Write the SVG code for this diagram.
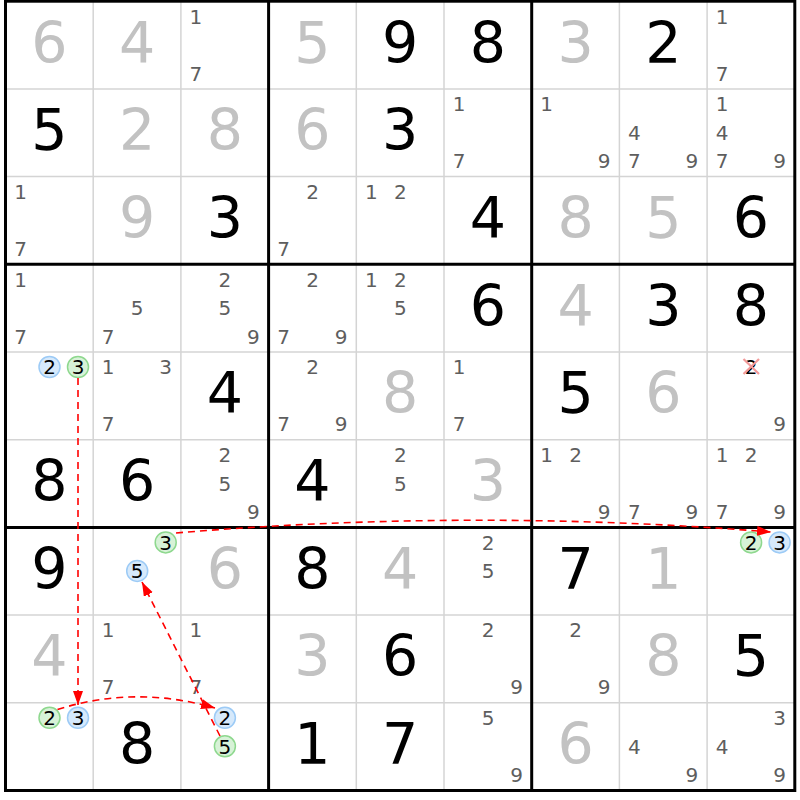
<svg xmlns="http://www.w3.org/2000/svg" width="800" height="800" viewBox="0 0 800 800">
<style>
text{font-family:"DejaVu Sans","Liberation Sans",sans-serif;text-anchor:middle}
.g{font-size:57px;fill:#000}
.s{font-size:57px;fill:#c2c2c2}
.c{font-size:20px;fill:#5e5e5e}
.k{font-size:20px;fill:#000}
.thin{stroke:#d4d4d4;stroke-width:1.5}
.thick{stroke:#000;stroke-width:3;fill:none}
.bl{fill:#d6e9fb;stroke:#9dcbf6;stroke-width:1.5}
.gr{fill:#d7f2d7;stroke:#8ed88e;stroke-width:1.5}
.ln{fill:none;stroke:#f00;stroke-width:1.6;stroke-dasharray:7,5}
.x{stroke:#f39a9a;stroke-width:2.2}
</style>
<defs>
<marker id="ah" markerUnits="userSpaceOnUse" markerWidth="15" markerHeight="11" refX="14" refY="5" orient="auto">
<path d="M0,0 L14,5 L0,10 z" fill="#f00"/>
</marker>
</defs>
<rect width="800" height="800" fill="#fff"/>
<g id="grid-thin" class="thin">
<line x1="93.2" y1="1" x2="93.2" y2="790"/><line x1="180.9" y1="1" x2="180.9" y2="790"/>
<line x1="356.3" y1="1" x2="356.3" y2="790"/><line x1="444" y1="1" x2="444" y2="790"/>
<line x1="619.4" y1="1" x2="619.4" y2="790"/><line x1="707.1" y1="1" x2="707.1" y2="790"/>
<line x1="5" y1="88.9" x2="795" y2="88.9"/><line x1="5" y1="176.6" x2="795" y2="176.6"/>
<line x1="5" y1="352" x2="795" y2="352"/><line x1="5" y1="439.7" x2="795" y2="439.7"/>
<line x1="5" y1="615.1" x2="795" y2="615.1"/><line x1="5" y1="702.8" x2="795" y2="702.8"/>
</g>
<!-- Row 1 -->
<g id="r1c1"><text class="s" x="49.4" y="62.5">6</text></g>
<g id="r1c2"><text class="s" x="137.1" y="62.5">4</text></g>
<g id="r1c3"><text class="c" x="195.9" y="23.5">1</text><text class="c" x="195.9" y="80.5">7</text></g>
<g id="r1c4"><text class="s" x="312.5" y="62.5">5</text></g>
<g id="r1c5"><text class="g" x="400.2" y="62.5">9</text></g>
<g id="r1c6"><text class="g" x="487.9" y="62.5">8</text></g>
<g id="r1c7"><text class="s" x="575.6" y="62.5">3</text></g>
<g id="r1c8"><text class="g" x="663.3" y="62.5">2</text></g>
<g id="r1c9"><text class="c" x="722.1" y="23.5">1</text><text class="c" x="722.1" y="80.5">7</text></g>
<!-- Row 2 -->
<g id="r2c1"><text class="g" x="49.4" y="150.2">5</text></g>
<g id="r2c2"><text class="s" x="137.1" y="150.2">2</text></g>
<g id="r2c3"><text class="s" x="224.8" y="150.2">8</text></g>
<g id="r2c4"><text class="s" x="312.5" y="150.2">6</text></g>
<g id="r2c5"><text class="g" x="400.2" y="150.2">3</text></g>
<g id="r2c6"><text class="c" x="459" y="111.2">1</text><text class="c" x="459" y="168.2">7</text></g>
<g id="r2c7"><text class="c" x="546.7" y="111.2">1</text><text class="c" x="604.2" y="168.2">9</text></g>
<g id="r2c8"><text class="c" x="634.4" y="139.7">4</text><text class="c" x="634.4" y="168.2">7</text><text class="c" x="691.9" y="168.2">9</text></g>
<g id="r2c9"><text class="c" x="722.1" y="111.2">1</text><text class="c" x="722.1" y="139.7">4</text><text class="c" x="722.1" y="168.2">7</text><text class="c" x="779.6" y="168.2">9</text></g>
<!-- Row 3 -->
<g id="r3c1"><text class="c" x="20.5" y="198.9">1</text><text class="c" x="20.5" y="255.9">7</text></g>
<g id="r3c2"><text class="s" x="137.1" y="237.9">9</text></g>
<g id="r3c3"><text class="g" x="224.8" y="237.9">3</text></g>
<g id="r3c4"><text class="c" x="312.6" y="198.9">2</text><text class="c" x="283.6" y="255.9">7</text></g>
<g id="r3c5"><text class="c" x="371.3" y="198.9">1</text><text class="c" x="400.3" y="198.9">2</text></g>
<g id="r3c6"><text class="g" x="487.9" y="237.9">4</text></g>
<g id="r3c7"><text class="s" x="575.6" y="237.9">8</text></g>
<g id="r3c8"><text class="s" x="663.3" y="237.9">5</text></g>
<g id="r3c9"><text class="g" x="751" y="237.9">6</text></g>
<!-- Row 4 -->
<g id="r4c1"><text class="c" x="20.5" y="286.6">1</text><text class="c" x="20.5" y="343.6">7</text></g>
<g id="r4c2"><text class="c" x="137.2" y="315.1">5</text><text class="c" x="108.2" y="343.6">7</text></g>
<g id="r4c3"><text class="c" x="224.9" y="286.6">2</text><text class="c" x="224.9" y="315.1">5</text><text class="c" x="253.4" y="343.6">9</text></g>
<g id="r4c4"><text class="c" x="312.6" y="286.6">2</text><text class="c" x="283.6" y="343.6">7</text><text class="c" x="341.1" y="343.6">9</text></g>
<g id="r4c5"><text class="c" x="371.3" y="286.6">1</text><text class="c" x="400.3" y="286.6">2</text><text class="c" x="400.3" y="315.1">5</text></g>
<g id="r4c6"><text class="g" x="487.9" y="325.6">6</text></g>
<g id="r4c7"><text class="s" x="575.6" y="325.6">4</text></g>
<g id="r4c8"><text class="g" x="663.3" y="325.6">3</text></g>
<g id="r4c9"><text class="g" x="751" y="325.6">8</text></g>
<!-- Row 5 -->
<g id="r5c1"><circle class="bl" cx="49.5" cy="367" r="10.5"/><text class="k" x="49.5" y="374.3">2</text><circle class="gr" cx="78" cy="367" r="10.5"/><text class="k" x="78" y="374.3">3</text></g>
<g id="r5c2"><text class="c" x="108.2" y="374.3">1</text><text class="c" x="165.7" y="374.3">3</text><text class="c" x="108.2" y="431.3">7</text></g>
<g id="r5c3"><text class="g" x="224.8" y="413.3">4</text></g>
<g id="r5c4"><text class="c" x="312.6" y="374.3">2</text><text class="c" x="283.6" y="431.3">7</text><text class="c" x="341.1" y="431.3">9</text></g>
<g id="r5c5"><text class="s" x="400.2" y="413.3">8</text></g>
<g id="r5c6"><text class="c" x="459" y="374.3">1</text><text class="c" x="459" y="431.3">7</text></g>
<g id="r5c7"><text class="g" x="575.6" y="413.3">5</text></g>
<g id="r5c8"><text class="s" x="663.3" y="413.3">6</text></g>
<g id="r5c9"><text class="k" x="751.1" y="374.3">2</text><line class="x" x1="743.5" y1="359" x2="759" y2="374"/><line class="x" x1="759" y1="359" x2="743.5" y2="374"/><text class="c" x="779.6" y="431.3">9</text></g>
<!-- Row 6 -->
<g id="r6c1"><text class="g" x="49.4" y="501">8</text></g>
<g id="r6c2"><text class="g" x="137.1" y="501">6</text></g>
<g id="r6c3"><text class="c" x="224.9" y="462">2</text><text class="c" x="224.9" y="490.5">5</text><text class="c" x="253.4" y="519">9</text></g>
<g id="r6c4"><text class="g" x="312.5" y="501">4</text></g>
<g id="r6c5"><text class="c" x="400.3" y="462">2</text><text class="c" x="400.3" y="490.5">5</text></g>
<g id="r6c6"><text class="s" x="487.9" y="501">3</text></g>
<g id="r6c7"><text class="c" x="546.7" y="462">1</text><text class="c" x="575.7" y="462">2</text><text class="c" x="604.2" y="519">9</text></g>
<g id="r6c8"><text class="c" x="634.4" y="519">7</text><text class="c" x="691.9" y="519">9</text></g>
<g id="r6c9"><text class="c" x="722.1" y="462">1</text><text class="c" x="751.1" y="462">2</text><text class="c" x="722.1" y="519">7</text><text class="c" x="779.6" y="519">9</text></g>
<!-- Row 7 -->
<g id="r7c1"><text class="g" x="49.4" y="588.7">9</text></g>
<g id="r7c2"><circle class="gr" cx="165.7" cy="542.4" r="10.5"/><text class="k" x="165.7" y="549.7">3</text><circle class="bl" cx="137.2" cy="570.9" r="10.5"/><text class="k" x="137.2" y="578.2">5</text></g>
<g id="r7c3"><text class="s" x="224.8" y="588.7">6</text></g>
<g id="r7c4"><text class="g" x="312.5" y="588.7">8</text></g>
<g id="r7c5"><text class="s" x="400.2" y="588.7">4</text></g>
<g id="r7c6"><text class="c" x="488" y="549.7">2</text><text class="c" x="488" y="578.2">5</text></g>
<g id="r7c7"><text class="g" x="575.6" y="588.7">7</text></g>
<g id="r7c8"><text class="s" x="663.3" y="588.7">1</text></g>
<g id="r7c9"><circle class="gr" cx="751.1" cy="542.4" r="10.5"/><text class="k" x="751.1" y="549.7">2</text><circle class="bl" cx="779.6" cy="542.4" r="10.5"/><text class="k" x="779.6" y="549.7">3</text></g>
<!-- Row 8 -->
<g id="r8c1"><text class="s" x="49.4" y="676.4">4</text></g>
<g id="r8c2"><text class="c" x="108.2" y="637.4">1</text><text class="c" x="108.2" y="694.4">7</text></g>
<g id="r8c3"><text class="c" x="195.9" y="637.4">1</text><text class="c" x="195.9" y="694.4">7</text></g>
<g id="r8c4"><text class="s" x="312.5" y="676.4">3</text></g>
<g id="r8c5"><text class="g" x="400.2" y="676.4">6</text></g>
<g id="r8c6"><text class="c" x="488" y="637.4">2</text><text class="c" x="516.5" y="694.4">9</text></g>
<g id="r8c7"><text class="c" x="575.7" y="637.4">2</text><text class="c" x="604.2" y="694.4">9</text></g>
<g id="r8c8"><text class="s" x="663.3" y="676.4">8</text></g>
<g id="r8c9"><text class="g" x="751" y="676.4">5</text></g>
<!-- Row 9 -->
<g id="r9c1"><circle class="gr" cx="49.5" cy="717.8" r="10.5"/><text class="k" x="49.5" y="725.1">2</text><circle class="bl" cx="78" cy="717.8" r="10.5"/><text class="k" x="78" y="725.1">3</text></g>
<g id="r9c2"><text class="g" x="137.1" y="764.1">8</text></g>
<g id="r9c3"><circle class="bl" cx="224.9" cy="717.8" r="10.5"/><text class="k" x="224.9" y="725.1">2</text><circle class="gr" cx="224.9" cy="746.3" r="10.5"/><text class="k" x="224.9" y="753.6">5</text></g>
<g id="r9c4"><text class="g" x="312.5" y="764.1">1</text></g>
<g id="r9c5"><text class="g" x="400.2" y="764.1">7</text></g>
<g id="r9c6"><text class="c" x="488" y="725.1">5</text><text class="c" x="516.5" y="782.1">9</text></g>
<g id="r9c7"><text class="s" x="575.6" y="764.1">6</text></g>
<g id="r9c8"><text class="c" x="634.4" y="753.6">4</text><text class="c" x="691.9" y="782.1">9</text></g>
<g id="r9c9"><text class="c" x="779.6" y="725.1">3</text><text class="c" x="722.1" y="753.6">4</text><text class="c" x="779.6" y="782.1">9</text></g>
<g id="grid-thick" class="thick">
<rect x="5.5" y="1.2" width="789.3" height="789.3"/>
<line x1="268.6" y1="1" x2="268.6" y2="791"/><line x1="531.7" y1="1" x2="531.7" y2="791"/>
<line x1="5" y1="264.3" x2="795" y2="264.3"/><line x1="5" y1="527.4" x2="795" y2="527.4"/>
</g>
<g id="connectors">
<path class="ln" d="M78,378 L78,705" marker-end="url(#ah)"/>
<path class="ln" d="M57.5,709.5 Q135,685 215,708" marker-end="url(#ah)"/>
<path class="ln" d="M220,736 L142,582" marker-end="url(#ah)"/>
<path class="ln" d="M176,533 Q473,508 771,532" marker-end="url(#ah)"/>
</g>
</svg>
